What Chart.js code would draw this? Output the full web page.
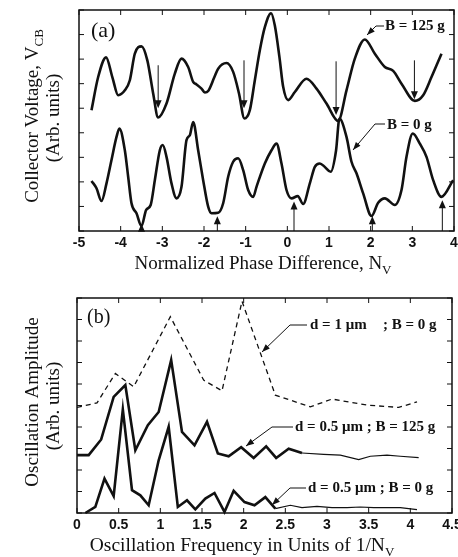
<!DOCTYPE html>
<html>
<head>
<meta charset="utf-8">
<script src="https://cdn.jsdelivr.net/npm/chart.js@4.4.1/dist/chart.umd.min.js"></script>
<style>
  html, body { margin: 0; padding: 0; background: #fff; overflow: hidden; width: 458px; height: 557px; }
  canvas { position: absolute; left: 0; }
  #phase { top: 0; }
  #freq { top: 288px; }
</style>
</head>
<body>
<canvas id="phase" width="480" height="285"></canvas>
<canvas id="freq" width="480" height="269"></canvas>
<script>
// panel (a): collector voltage vs normalized phase difference
const phaseTickValues = [-5, -4, -3, -2, -1, 0, 1, 2, 3, 4];
const voltTickValues = [0, 1, 2, 3, 4, 5, 6, 7, 8, 9];

const traceB125 = [
  [-4.70, 4.92], [-4.54, 6.27], [-4.35, 7.07], [-4.20, 6.27], [-4.06, 5.53], [-3.90, 5.73],
  [-3.78, 6.14], [-3.66, 7.22], [-3.50, 7.52], [-3.36, 6.95], [-3.22, 5.60], [-3.10, 4.62],
  [-2.90, 5.19], [-2.70, 6.41], [-2.54, 7.02], [-2.38, 6.68], [-2.26, 6.07], [-2.18, 5.97],
  [-2.06, 5.80], [-1.98, 5.64], [-1.90, 5.70], [-1.75, 6.27], [-1.66, 6.61], [-1.46, 6.84],
  [-1.30, 6.48], [-1.16, 5.60], [-1.03, 4.58], [-0.90, 4.92], [-0.78, 6.14], [-0.66, 7.36],
  [-0.54, 8.30], [-0.39, 8.87], [-0.30, 8.37], [-0.19, 7.09], [-0.10, 5.87], [0.02, 5.33],
  [0.18, 5.66], [0.46, 6.20], [0.70, 5.80], [0.94, 5.19], [1.22, 4.48], [1.42, 5.73],
  [1.62, 7.02], [1.86, 7.80], [2.10, 7.22], [2.34, 6.68], [2.54, 6.52], [2.74, 6.00],
  [3.06, 5.30], [3.26, 5.53], [3.46, 6.27], [3.70, 7.22]
];

const traceB0 = [
  [-4.70, 2.04], [-4.58, 1.74], [-4.46, 1.22], [-4.34, 1.94], [-4.22, 2.89], [-4.10, 3.83],
  [-4.03, 4.17], [-3.90, 3.29], [-3.82, 2.21], [-3.74, 1.13], [-3.62, 0.72], [-3.50, 0.20],
  [-3.39, 0.85], [-3.28, 1.06], [-3.18, 2.07], [-3.06, 3.29], [-2.99, 3.50], [-2.90, 3.02],
  [-2.78, 1.94], [-2.66, 1.33], [-2.54, 1.80], [-2.42, 3.70], [-2.34, 3.90], [-2.26, 4.44],
  [-2.14, 3.29], [-2.02, 2.07], [-1.90, 0.99], [-1.82, 0.72], [-1.66, 0.74], [-1.54, 1.13],
  [-1.42, 2.21], [-1.30, 2.82], [-1.18, 2.96], [-1.06, 2.48], [-0.94, 1.67], [-0.82, 1.39],
  [-0.74, 1.80], [-0.54, 2.75], [-0.38, 3.29], [-0.26, 3.56], [-0.14, 2.75], [-0.02, 1.67],
  [0.10, 1.33], [0.25, 1.42], [0.38, 1.10], [0.54, 1.94], [0.66, 2.61], [0.78, 2.75],
  [0.90, 2.61], [1.04, 2.41], [1.17, 3.29], [1.25, 4.58], [1.42, 3.83], [1.54, 2.82],
  [1.66, 2.35], [1.82, 1.53], [2.02, 0.61], [2.18, 1.15], [2.34, 1.33], [2.58, 1.06],
  [2.74, 1.67], [2.86, 3.02], [3.01, 3.97], [3.18, 3.56], [3.34, 3.02], [3.50, 2.07],
  [3.70, 1.39], [3.98, 2.07]
];

// arrows marking the minima
const downArrowX = [-3.10, -1.04, 1.17, 3.05];
const downArrowFrom = [6.75, 6.95, 6.91, 6.95];
const downArrowTo = [5.00, 5.00, 4.72, 5.37];
const upArrowX = [-3.50, -1.68, 0.16, 2.04, 3.72];
const upArrowTo = [0.30, 0.60, 1.20, 0.60, 1.25];

// panel (b): oscillation amplitude vs frequency
const freqTickValues = [0, 0.5, 1, 1.5, 2, 2.5, 3, 3.5, 4, 4.5];
const ampTickValues = [0, 1, 2, 3, 4, 5, 6, 7, 8, 9, 10];

const traceD1B0 = [
  [0, 4.91], [0.24, 5.12], [0.46, 6.49], [0.68, 5.87], [1.12, 9.13], [1.52, 6.18],
  [1.74, 5.68], [1.98, 9.85], [2.38, 5.48], [2.80, 4.94], [3.06, 5.30], [3.48, 5.02],
  [3.86, 4.91], [4.08, 5.17]
];

const traceD05B125 = [
  [0, 2.69], [0.14, 2.69], [0.29, 3.42], [0.44, 5.40], [0.58, 5.95], [0.70, 2.92],
  [0.85, 4.08], [0.98, 4.70], [1.13, 7.11], [1.26, 3.77], [1.41, 3.15], [1.56, 4.24],
  [1.69, 2.77], [1.82, 2.64], [1.97, 3.06], [2.12, 2.56], [2.27, 3.10], [2.39, 2.56],
  [2.54, 2.99], [2.70, 2.79], [2.96, 2.73], [3.16, 2.69], [3.38, 2.48], [3.52, 2.64],
  [3.72, 2.69], [3.88, 2.64], [4.10, 2.58]
];

const traceD05B0 = [
  [0.10, 0], [0.22, 0.28], [0.33, 1.60], [0.44, 0.79], [0.55, 4.82], [0.66, 1.06],
  [0.76, 0.82], [0.86, 0.36], [0.98, 2.45], [1.10, 4.01], [1.21, 0.28], [1.32, 0.59],
  [1.42, 0.17], [1.54, 0.67], [1.65, 0.93], [1.77, 0.05], [1.88, 1.03], [2.01, 0.51],
  [2.13, 0.36], [2.26, 0.74], [2.38, 0.20], [2.56, 0.36], [2.70, 0.25], [2.88, 0.31],
  [3.06, 0.25], [3.24, 0.25], [3.40, 0.28], [3.56, 0.25], [3.72, 0.25], [3.88, 0.25],
  [4.08, 0.16]
];

const ink = '#111111';
const serif = '"Liberation Serif", "Times New Roman", serif';

function toPoints(pairs) {
  return pairs.map(([x, y]) => ({ x, y }));
}

function fixedTicks(values) {
  return (scale) => {
    scale.ticks = values.map((value) => ({ value }));
  };
}

function arrowHead(ctx, x, y, angle, len = 7, half = 3) {
  ctx.save();
  ctx.translate(x, y);
  ctx.rotate(angle);
  ctx.beginPath();
  ctx.moveTo(0, 0);
  ctx.lineTo(-len, -half);
  ctx.lineTo(-len, half);
  ctx.closePath();
  ctx.fill();
  ctx.restore();
}

function leader(ctx, pts) {
  ctx.beginPath();
  ctx.moveTo(pts[0][0], pts[0][1]);
  pts.slice(1).forEach(([x, y]) => ctx.lineTo(x, y));
  ctx.stroke();
  const [x1, y1] = pts[pts.length - 2];
  const [x2, y2] = pts[pts.length - 1];
  arrowHead(ctx, x2, y2, Math.atan2(y2 - y1, x2 - x1), 8, 3);
}

// text with a subscripted tail, centred on (cx, cy), baseline at cy
function richText(ctx, parts, cx, cy, size, angle = 0) {
  ctx.save();
  ctx.translate(cx, cy);
  ctx.rotate(angle);
  ctx.textAlign = 'left';
  ctx.textBaseline = 'alphabetic';
  const widths = parts.map((p) => {
    ctx.font = `${p.sub ? Math.round(size * 0.68) : size}px ${serif}`;
    return ctx.measureText(p.text).width;
  });
  let x = -widths.reduce((a, b) => a + b, 0) / 2;
  parts.forEach((p, i) => {
    ctx.font = `${p.sub ? Math.round(size * 0.68) : size}px ${serif}`;
    ctx.fillText(p.text, x, p.sub ? size * 0.28 : 0);
    x += widths[i];
  });
  ctx.restore();
}

const framePlugin = {
  id: 'frame',
  afterDatasetsDraw(chart) {
    const { ctx, chartArea: a, scales: { x, y } } = chart;
    ctx.save();
    ctx.strokeStyle = ink;
    ctx.lineWidth = 1.5;
    ctx.strokeRect(a.left, a.top, a.right - a.left, a.bottom - a.top);
    ctx.lineWidth = 1;
    ctx.beginPath();
    x.ticks.forEach((t) => {
      const px = x.getPixelForValue(t.value);
      ctx.moveTo(px, a.bottom); ctx.lineTo(px, a.bottom - 5);
      ctx.moveTo(px, a.top); ctx.lineTo(px, a.top + 5);
    });
    y.ticks.forEach((t) => {
      const py = y.getPixelForValue(t.value);
      ctx.moveTo(a.left, py); ctx.lineTo(a.left + 5, py);
      ctx.moveTo(a.right, py); ctx.lineTo(a.right - 5, py);
    });
    ctx.stroke();
    ctx.restore();
  }
};

const phaseNotes = {
  id: 'phaseNotes',
  afterDraw(chart) {
    const { ctx, scales: { x, y } } = chart;
    ctx.save();
    ctx.strokeStyle = ink;
    ctx.fillStyle = ink;
    ctx.lineWidth = 1;

    downArrowX.forEach((v, i) => {
      const px = x.getPixelForValue(v);
      const y0 = y.getPixelForValue(downArrowFrom[i]);
      const y1 = y.getPixelForValue(downArrowTo[i]);
      ctx.beginPath(); ctx.moveTo(px, y0); ctx.lineTo(px, y1 - 5); ctx.stroke();
      arrowHead(ctx, px, y1, Math.PI / 2, 8, 3.5);
    });
    upArrowX.forEach((v, i) => {
      const px = x.getPixelForValue(v);
      const y0 = y.getPixelForValue(0);
      const y1 = y.getPixelForValue(upArrowTo[i]);
      ctx.beginPath(); ctx.moveTo(px, y0); ctx.lineTo(px, y1 + 5); ctx.stroke();
      arrowHead(ctx, px, y1, -Math.PI / 2, 8, 3.5);
    });

    ctx.textBaseline = 'middle';
    ctx.textAlign = 'left';
    ctx.font = `22px ${serif}`;
    ctx.fillText('(a)', 91, 31);
    ctx.font = `bold 15px ${serif}`;
    ctx.fillText('B = 125 g', 385, 26);
    ctx.fillText('B = 0 g', 387, 125);
    leader(ctx, [[384, 26], [376, 26], [367, 35]]);
    leader(ctx, [[385, 124], [375, 124], [353, 150]]);

    richText(ctx, [{ text: 'Normalized Phase Difference, N' }, { text: 'V', sub: true }], 263, 269, 19);
    richText(ctx, [{ text: 'Collector Voltage, V' }, { text: 'CB', sub: true }], 38, 116, 19, -Math.PI / 2);
    richText(ctx, [{ text: '(Arb. units)' }], 59, 118, 19, -Math.PI / 2);
    ctx.restore();
  }
};

const freqNotes = {
  id: 'freqNotes',
  afterDraw(chart) {
    const { ctx } = chart;
    ctx.save();
    ctx.strokeStyle = ink;
    ctx.fillStyle = ink;
    ctx.lineWidth = 1;
    ctx.textBaseline = 'middle';
    ctx.textAlign = 'left';
    ctx.font = `20px ${serif}`;
    ctx.fillText('(b)', 87, 30);
    ctx.font = `bold 15px ${serif}`;
    ctx.fillText('d = 1 \u03bcm', 310, 37);
    ctx.fillText('; B = 0 g', 383, 37);
    ctx.fillText('d = 0.5 \u03bcm ; B = 125 g', 295, 139);
    ctx.fillText('d = 0.5 \u03bcm ; B = 0 g', 308, 200);
    leader(ctx, [[307, 37], [290, 37], [262, 64]]);
    leader(ctx, [[293, 139], [272, 139], [246, 158]]);
    leader(ctx, [[306, 200], [290, 200], [272, 217]]);

    richText(ctx, [{ text: 'Oscillation Frequency in Units of 1/N' }, { text: 'V', sub: true }], 242, 263, 19.5);
    richText(ctx, [{ text: 'Oscillation Amplitude' }], 38, 114, 19, -Math.PI / 2);
    richText(ctx, [{ text: '(Arb. units)' }], 59, 118, 19, -Math.PI / 2);
    ctx.restore();
  }
};

function axes(xMin, xMax, xTicks, yMin, yMax, yTicks) {
  return {
    x: {
      type: 'linear',
      min: xMin,
      max: xMax,
      afterBuildTicks: fixedTicks(xTicks),
      afterFit: (s) => { s.height = 28; },
      grid: { display: false, drawTicks: false },
      border: { display: false },
      ticks: {
        padding: 4,
        color: ink,
        font: { family: '"Liberation Sans", Arial, sans-serif', size: 14, weight: 'bold' },
        callback: (v) => String(v)
      }
    },
    y: {
      type: 'linear',
      min: yMin,
      max: yMax,
      afterBuildTicks: fixedTicks(yTicks),
      afterFit: (s) => { s.width = 0; },
      grid: { display: false, drawTicks: false },
      border: { display: false },
      ticks: { display: false }
    }
  };
}

const baseOptions = {
  responsive: false,
  animation: false,
  events: [],
  plugins: { legend: { display: false }, tooltip: { enabled: false } },
  elements: { point: { radius: 0 } }
};

new Chart(document.getElementById('phase'), {
  type: 'line',
  data: {
    datasets: [
      {
        label: 'B = 125 g',
        data: toPoints(traceB125),
        borderColor: ink,
        borderWidth: 2.6,
        tension: 0.4,
        cubicInterpolationMode: 'monotone'
      },
      {
        label: 'B = 0 g',
        data: toPoints(traceB0),
        borderColor: ink,
        borderWidth: 2.6,
        tension: 0.4,
        cubicInterpolationMode: 'monotone'
      }
    ]
  },
  options: {
    ...baseOptions,
    layout: { padding: { left: 79, right: 26, top: 10, bottom: 26 } },
    scales: axes(-5, 4, phaseTickValues, 0, 9, voltTickValues)
  },
  plugins: [framePlugin, phaseNotes]
});

new Chart(document.getElementById('freq'), {
  type: 'line',
  data: {
    datasets: [
      {
        label: 'd = 1 \u03bcm ; B = 0 g',
        data: toPoints(traceD1B0),
        borderColor: ink,
        borderWidth: 1.3,
        borderDash: [5, 4],
        tension: 0
      },
      {
        label: 'd = 0.5 \u03bcm ; B = 125 g',
        data: toPoints(traceD05B125),
        borderColor: ink,
        borderWidth: 2.6,
        tension: 0,
        segment: { borderWidth: (c) => (c.p0.parsed.x >= 2.7 ? 1.2 : 2.6) }
      },
      {
        label: 'd = 0.5 \u03bcm ; B = 0 g',
        data: toPoints(traceD05B0),
        borderColor: ink,
        borderWidth: 2.6,
        tension: 0,
        clip: 5,
        segment: { borderWidth: (c) => (c.p0.parsed.x >= 2.38 ? 1.2 : 2.6) }
      }
    ]
  },
  options: {
    ...baseOptions,
    layout: { padding: { left: 77, right: 28, top: 10, bottom: 16 } },
    scales: axes(0, 4.5, freqTickValues, 0, 10, ampTickValues)
  },
  plugins: [framePlugin, freqNotes]
});
</script>
</body>
</html>
